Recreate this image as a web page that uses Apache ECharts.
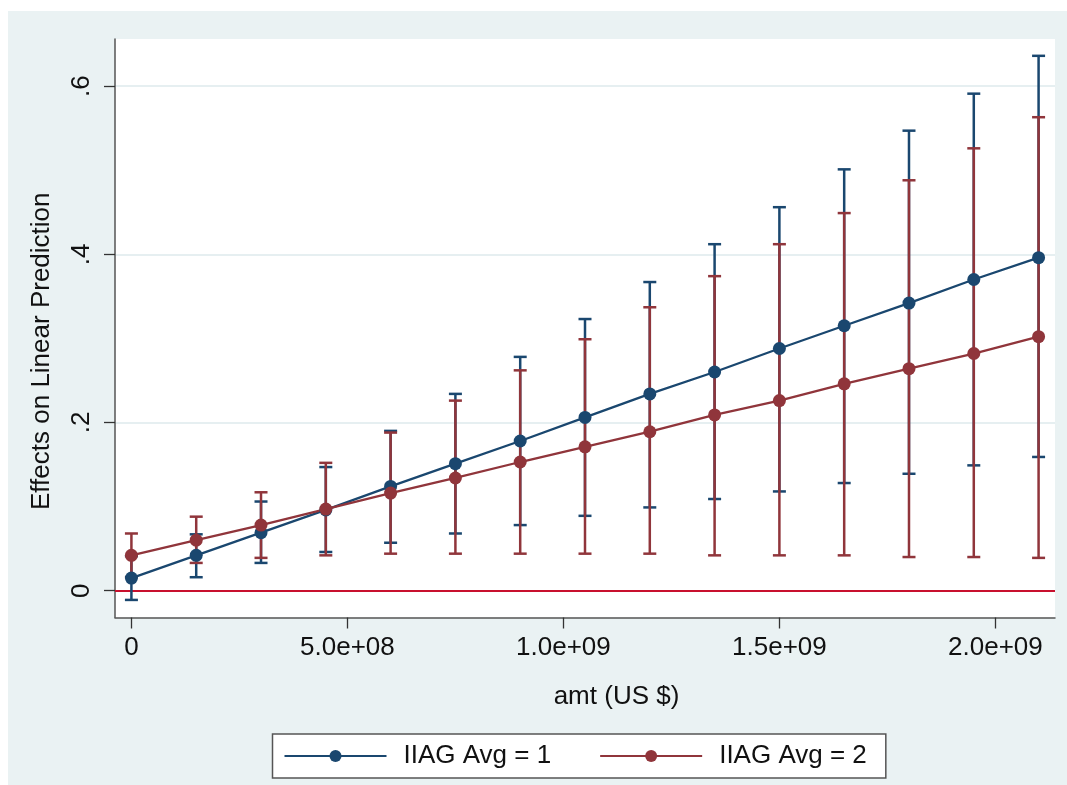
<!DOCTYPE html>
<html>
<head>
<meta charset="utf-8">
<script src="https://cdn.jsdelivr.net/npm/echarts@6/dist/echarts.min.js"></script>
<style>
  html, body { margin: 0; padding: 0; background: #ffffff; }
  #chart { position: absolute; left: 8px; top: 11px; width: 1059px; height: 774px; }
</style>
</head>
<body>
<div id="chart"></div>
<script>
// ---- data ----
const amt = [0, 1.5e8, 3e8, 4.5e8, 6e8, 7.5e8, 9e8, 1.05e9, 1.2e9, 1.35e9, 1.5e9, 1.65e9, 1.8e9, 1.95e9, 2.1e9];

const avg1Mean  = [0.015, 0.042, 0.069, 0.096, 0.124, 0.151, 0.178, 0.206, 0.234, 0.260, 0.288, 0.315, 0.342, 0.370, 0.396];
const avg1Lower = [-0.011, 0.016, 0.033, 0.046, 0.057, 0.068, 0.078, 0.089, 0.099, 0.109, 0.118, 0.128, 0.139, 0.149, 0.159];
const avg1Upper = [0.041, 0.067, 0.106, 0.147, 0.190, 0.234, 0.278, 0.323, 0.367, 0.412, 0.456, 0.501, 0.547, 0.591, 0.636];

const avg2Mean  = [0.042, 0.060, 0.078, 0.097, 0.116, 0.134, 0.153, 0.171, 0.189, 0.209, 0.226, 0.246, 0.264, 0.282, 0.302];
const avg2Lower = [0.016, 0.033, 0.039, 0.042, 0.044, 0.044, 0.044, 0.044, 0.044, 0.042, 0.042, 0.042, 0.040, 0.040, 0.039];
const avg2Upper = [0.068, 0.088, 0.117, 0.152, 0.188, 0.226, 0.262, 0.299, 0.337, 0.374, 0.412, 0.449, 0.488, 0.526, 0.563];

const seriesNames = ['IIAG Avg = 1', 'IIAG Avg = 2'];

const xTickValues = [0, 5e8, 1e9, 1.5e9, 2e9];
const xTickLabels = ['0', '5.0e+08', '1.0e+09', '1.5e+09', '2.0e+09'];
const yTickValues = [0, 0.2, 0.4, 0.6];
const yTickLabels = ['0', '.2', '.4', '.6'];

const xRange = [-3.8e7, 2.138e9];
const yRange = [-0.0319, 0.656];
const refLineY = 0;

// ---- styling ----
const NAVY = '#1a476f';
const MAROON = '#90353b';
const FONT = "'Liberation Sans', Arial, sans-serif";

function ciSeries(name, lower, upper, color, withRef) {
  const s = {
    name: name,
    type: 'custom',
    data: amt.map((x, i) => [x, lower[i], upper[i]]),
    encode: { x: 0, y: [1, 2] },
    silent: true,
    renderItem: function (params, api) {
      const x = api.value(0);
      const pLo = api.coord([x, api.value(1)]);
      const pHi = api.coord([x, api.value(2)]);
      const hw = 6.5;
      const style = { stroke: color, lineWidth: 2.5 };
      return {
        type: 'group',
        children: [
          { type: 'line', shape: { x1: pLo[0], y1: pLo[1], x2: pHi[0], y2: pHi[1] }, style: style },
          { type: 'line', shape: { x1: pLo[0] - hw, y1: pLo[1], x2: pLo[0] + hw, y2: pLo[1] }, style: style },
          { type: 'line', shape: { x1: pHi[0] - hw, y1: pHi[1], x2: pHi[0] + hw, y2: pHi[1] }, style: style }
        ]
      };
    }
  };
  if (withRef) {
    s.markLine = {
      silent: true,
      symbol: 'none',
      label: { show: false },
      lineStyle: { color: '#c8102e', width: 2, type: 'solid' },
      data: [{ yAxis: refLineY }],
      z: 1
    };
  }
  return s;
}

function lineSeries(name, mean, color) {
  return {
    name: name,
    type: 'line',
    data: amt.map((x, i) => [x, mean[i]]),
    symbol: 'circle',
    symbolSize: 13,
    showSymbol: true,
    lineStyle: { color: color, width: 2.3 },
    itemStyle: { color: color, borderWidth: 0 },
    emphasis: { disabled: true },
    silent: true
  };
}

const chart = echarts.init(document.getElementById('chart'), null, { renderer: 'canvas' });
chart.setOption({
  animation: false,
  backgroundColor: '#eaf2f3',
  textStyle: { fontFamily: FONT },
  grid: {
    left: 107, top: 28, right: 12, bottom: 167.5,
    show: true, backgroundColor: '#ffffff', borderWidth: 0,
    containLabel: false
  },
  legend: {
    data: seriesNames,
    left: 264.5,
    top: 723,
    orient: 'horizontal',
    itemWidth: 102,
    itemHeight: 15,
    itemGap: 48,
    padding: [9, 19, 9, 11],
    backgroundColor: '#ffffff',
    borderColor: '#555555',
    borderWidth: 1.5,
    borderRadius: 0,
    textStyle: { fontSize: 26, color: '#111111', fontFamily: FONT, padding: [0, 0, 0, 12] },
    selectedMode: false
  },
  xAxis: {
    type: 'value',
    min: xRange[0],
    max: xRange[1],
    name: 'amt (US $)',
    nameLocation: 'middle',
    nameGap: 66,
    nameTextStyle: { fontSize: 26, color: '#111111', fontFamily: FONT, padding: [0, 0, 0, 63] },
    axisLine: { show: true, onZero: false, lineStyle: { color: '#555555', width: 1.5 } },
    axisTick: { show: true, length: 11, customValues: xTickValues, lineStyle: { color: '#333333', width: 1.3 } },
    axisLabel: {
      show: true, margin: 17, fontSize: 26, color: '#111111', fontFamily: FONT,
      customValues: xTickValues,
      formatter: function (v) {
        const i = xTickValues.indexOf(v);
        return i >= 0 ? xTickLabels[i] : '';
      }
    },
    splitLine: { show: false }
  },
  yAxis: {
    type: 'value',
    min: yRange[0],
    max: yRange[1],
    name: 'Effects on Linear Prediction',
    nameLocation: 'middle',
    nameRotate: 90,
    nameGap: 60,
    nameTextStyle: { fontSize: 26, color: '#111111', fontFamily: FONT, padding: [0, 46, 0, 0] },
    axisLine: { show: true, onZero: false, lineStyle: { color: '#555555', width: 1.5 } },
    axisTick: { show: true, length: 11, customValues: yTickValues, lineStyle: { color: '#333333', width: 1.3 } },
    axisLabel: {
      show: true, margin: 20, rotate: 90, fontSize: 26, color: '#111111', fontFamily: FONT,
      customValues: yTickValues,
      formatter: function (v) {
        let idx = -1;
        yTickValues.forEach((t, i) => { if (Math.abs(t - v) < 1e-9) idx = i; });
        return idx >= 0 ? yTickLabels[idx] : '';
      }
    },
    splitLine: { show: true, lineStyle: { color: '#e6eff1', width: 2 } }
  },
  series: [
    ciSeries('CI ' + seriesNames[0], avg1Lower, avg1Upper, NAVY, true),
    ciSeries('CI ' + seriesNames[1], avg2Lower, avg2Upper, MAROON, false),
    lineSeries(seriesNames[0], avg1Mean, NAVY),
    lineSeries(seriesNames[1], avg2Mean, MAROON)
  ]
});
</script>
</body>
</html>
